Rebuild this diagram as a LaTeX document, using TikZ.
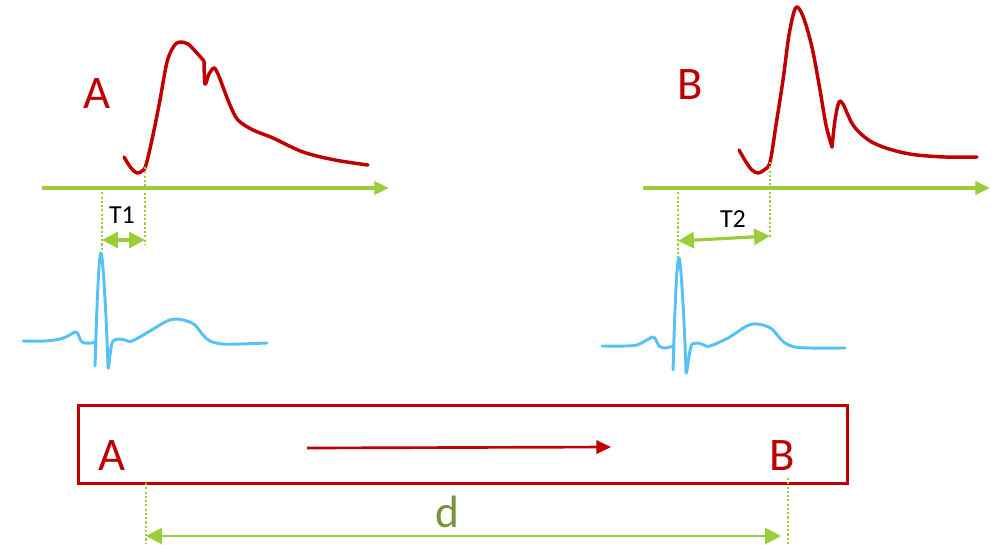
\documentclass[tikz,border=0pt]{standalone}
\usepackage{fontspec}
\setmainfont{Carlito}
\usetikzlibrary{arrows.meta}
\definecolor{myred}{HTML}{C00000}
\definecolor{mygreen}{HTML}{9ACD3C}
\definecolor{dgreen}{HTML}{77933C}
\definecolor{ecgblue}{HTML}{55C1F5}
\begin{document}
\begin{tikzpicture}[x=0.75pt,y=-0.75pt,
  axis/.style={draw=mygreen, line width=2.4pt, -{Triangle[length=11pt,width=10pt]}},
  guide/.style={draw=mygreen, line width=1.8pt, dash pattern=on 1.6pt off 1.6pt},
  dimarrow/.style={draw=mygreen, line width=2.4pt, {Triangle[length=12pt,width=12pt]}-{Triangle[length=12pt,width=12pt]}},
  pulse/.style={draw=myred, line width=2.6pt, line join=round, line cap=round},
  ecgline/.style={draw=ecgblue, line width=2.2pt, line join=round, line cap=round},
  biglabel/.style={text=myred, font=\fontsize{35}{40}\selectfont, inner sep=0pt},
  tlabel/.style={text=black, font=\fontsize{19.5}{22}\selectfont, inner sep=0pt},
  dlabel/.style={text=dgreen, font=\fontsize{34}{40}\selectfont, inner sep=0pt},
  boxstyle/.style={draw=myred, line width=2.4pt}
]
\useasboundingbox (0,0) rectangle (1002,544);

% ---------- Site A ----------
\node[biglabel] (lblA) at (97,94) {A};
\coordinate (axAs) at (42,188);
\coordinate (axAe) at (389,188);
\draw[axis] (axAs) -- (axAe);

\draw[pulse] plot[smooth, tension=0.55] coordinates {
 (124,157) (131,168) (137,173) (142,171) (146,165) (153,135) (160,100) (167,62)
 (174,46) (180,42) (188,44) (196,52) (204,61)};
\draw[pulse] plot[smooth, tension=0.55] coordinates {
 (204,61) (205,84) (209,74) (214,68) (218,74) (223,87) (230,105) (238,120)
 (253,130) (273,138) (303,152) (335,160) (368,165)};

\coordinate (gA1t) at (102,188);
\coordinate (gA1b) at (102,252);
\coordinate (gA2t) at (145,167);
\coordinate (gA2b) at (145,244);
\draw[guide] (gA1t) -- (gA1b);
\draw[guide] (gA2t) -- (gA2b);
\coordinate (t1l) at (102,240);
\coordinate (t1r) at (145,240);
\draw[dimarrow] (t1l) -- (t1r);
\node[tlabel] (lblT1) at (122,215) {T1};

\draw[ecgline] plot[smooth, tension=0.5] coordinates {
 (23,341) (45,341) (60,339) (68,336) (75,332) (78,334) (81,341) (85,343) (92,343) (96,341)};
\draw[ecgline] (96,341) -- (95,366) .. controls (97,300) and (99,253) .. (101,253)
  .. controls (103,253) and (107,330) .. (108,368) .. controls (109,372) and (110,345) .. (113,341);
\draw[ecgline] plot[smooth, tension=0.55] coordinates {
 (113,341) (118,339) (125,340) (132,341) (150,331) (165,322) (175,319) (187,321) (195,325)
 (203,335) (210,341) (222,344) (240,344) (267,343)};

% ---------- Site B ----------
\node[biglabel] (lblB) at (690,85) {B};
\coordinate (axBs) at (643,188);
\coordinate (axBe) at (990,188);
\draw[axis] (axBs) -- (axBe);

\draw[pulse] plot[smooth, tension=0.55] coordinates {
 (739,150) (746,162) (752,170) (758,173) (764,170) (770,162) (776,125) (783,80)
 (789,35) (795,9) (800,10) (806,25) (813,52) (820,90) (826,125) (832,147)};
\draw[pulse] plot[smooth, tension=0.55] coordinates {
 (832,147) (835,120) (839,102) (843,104) (847,113) (853,125) (860,133) (870,141)
 (883,147) (900,152) (917,155) (945,157) (977,157)};

\coordinate (gB1t) at (678,188);
\coordinate (gB1b) at (678,258);
\coordinate (gB2t) at (770,162);
\coordinate (gB2b) at (770,238);
\draw[guide] (gB1t) -- (gB1b);
\draw[guide] (gB2t) -- (gB2b);
\coordinate (t2l) at (678,241);
\coordinate (t2r) at (770,236);
\draw[dimarrow] (t2l) -- (t2r);
\node[tlabel] (lblT2) at (733,219) {T2};

\draw[ecgline] plot[smooth, tension=0.5] coordinates {
 (602,346) (625,346) (637,345) (645,341) (653,337) (656,340) (659,346) (664,348) (670,347) (674,346)};
\draw[ecgline] (674,346) -- (673,370) .. controls (675,300) and (677,258) .. (679,258)
  .. controls (681,258) and (685,335) .. (686,373) .. controls (687,377) and (689,348) .. (692,344);
\draw[ecgline] plot[smooth, tension=0.55] coordinates {
 (692,344) (698,343) (704,345) (710,346) (728,338) (745,327) (753,324) (763,325) (772,329)
 (778,336) (785,343) (795,347) (810,348) (845,348)};

% ---------- Vessel ----------
\node[boxstyle, minimum width=768.5*0.75pt, minimum height=78*0.75pt, anchor=north west, inner sep=0pt] (vessel) at (77,404) {};
\node[biglabel] (lblA2) at (112,456) {A};
\node[biglabel] (lblB2) at (782,456) {B};
\coordinate (flowS) at (307,448);
\coordinate (flowE) at (611,447);
\draw[draw=myred, line width=2pt, -{Triangle[length=11pt,width=10pt]}] (flowS) -- (flowE);

\coordinate (gdAt) at (146,483);
\coordinate (gdAb) at (146,544);
\coordinate (gdBt) at (788,478);
\coordinate (gdBb) at (788,544);
\draw[guide, line width=1.5pt] (gdAt) -- (gdAb);
\draw[guide, line width=1.5pt] (gdBt) -- (gdBb);
\coordinate (dl) at (146,536);
\coordinate (dr) at (781,536);
\draw[dimarrow, line width=2.2pt] (dl) -- (dr);
\node[dlabel] (lbld) at (447,512) {d};
\end{tikzpicture}
\end{document}
